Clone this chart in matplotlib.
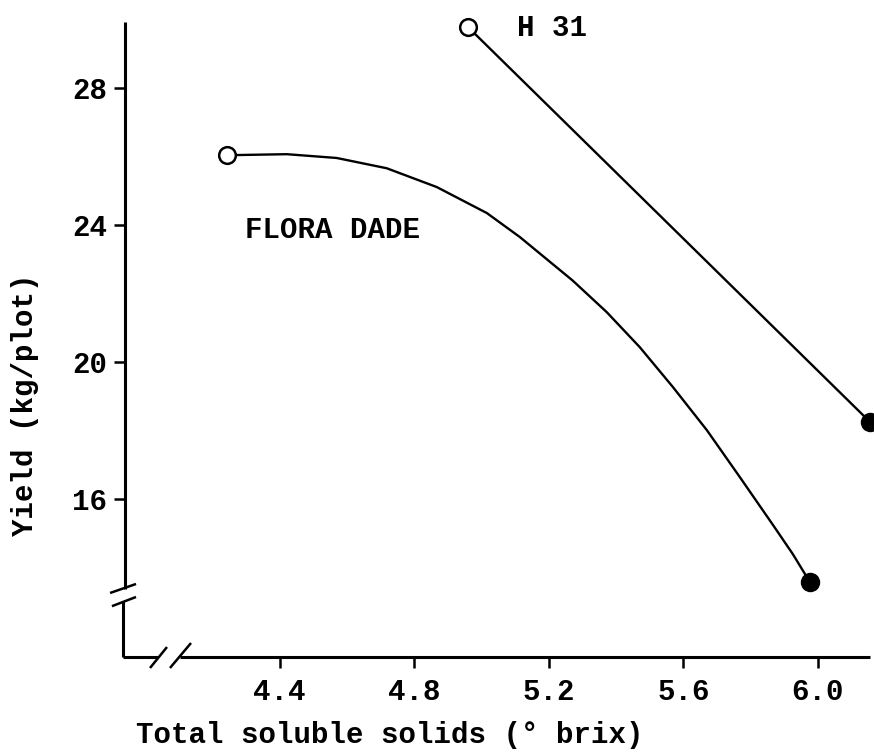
import numpy as np
import matplotlib
matplotlib.use("Agg")
import matplotlib.pyplot as plt

# values
flora_x = [4.242, 4.421, 4.569, 4.718, 4.867, 5.016, 5.114, 5.203, 5.271, 5.372,
           5.470, 5.569, 5.670, 5.768, 5.866, 5.925, 5.976]
flora_y = [26.04, 26.07, 25.96, 25.66, 25.11, 24.35, 23.65, 22.93, 22.38, 21.46,
           20.44, 19.27, 18.01, 16.64, 15.25, 14.40, 13.58]
h31_x = [4.96, 6.155]
h31_y = [29.78, 18.25]

xticks = [4.4, 4.8, 5.2, 5.6, 6.0]
xticklabels = ["4.4", "4.8", "5.2", "5.6", "6.0"]
yticks = [16, 20, 24, 28]
yticklabels = ["16", "20", "24", "28"]

plt.rcParams['font.family'] = ['Liberation Mono', 'DejaVu Sans Mono']
plt.rcParams['font.weight'] = 'bold'
plt.rcParams['axes.labelweight'] = 'bold'
fs = 21

fig = plt.figure(figsize=(8.74, 7.53), dpi=100)
ax = fig.add_axes([0.143, 0.1275, 0.8525, 0.8433])
ax.set_xlim(3.94, 6.155)
ax.set_ylim(11.39, 29.93)

for s in ax.spines.values():
    s.set_visible(False)

# curves
ax.plot(flora_x, flora_y, color='black', lw=1.7, zorder=2, solid_joinstyle='round')
ax.plot(h31_x, h31_y, color='black', lw=1.7, zorder=2)
for xs, ys in [(flora_x, flora_y), (h31_x, h31_y)]:
    ax.plot(xs[0], ys[0], 'o', ms=12, mfc='white', mec='black', mew=1.8, zorder=3, clip_on=False)
    ax.plot(xs[-1], ys[-1], 'o', ms=13, color='black', zorder=3, clip_on=False)

ax.text(4.296, 23.85, "FLORA DADE", fontsize=fs, ha='left', va='center')
ax.text(5.105, 29.75, "H 31", fontsize=fs, ha='left', va='center')

# broken axes drawn by hand
kw = dict(transform=ax.transAxes, color='black', clip_on=False, solid_capstyle='butt')
ax.plot([0, 0], [1, 0.107], lw=2.2, **kw)
ax.plot([-0.003, -0.003], [0.088, 0], lw=2.2, **kw)
ax.plot([-0.003, 0.0443], [0, 0], lw=2.2, **kw)
ax.plot([0.0738, 1], [0, 0], lw=2.2, **kw)
ax.plot([-0.020, 0.0148], [0.1008, 0.115], lw=1.8, **kw)
ax.plot([-0.0175, 0.0148], [0.080, 0.0945], lw=1.8, **kw)
ax.plot([0.0336, 0.0564], [-0.0173, 0.0157], lw=1.8, **kw)
ax.plot([0.0604, 0.0886], [-0.0173, 0.022], lw=1.8, **kw)

ax.set_xticks(xticks)
ax.set_xticklabels(xticklabels)
ax.set_yticks(yticks)
ax.set_yticklabels(yticklabels)
ax.tick_params(axis='x', direction='out', length=8, width=1.8, pad=7, labelsize=fs)
ax.tick_params(axis='y', direction='out', length=8, width=1.8, pad=5, labelsize=fs)

ax.set_xlabel("Total soluble solids (° brix)", fontsize=fs, va='center')
ax.set_ylabel("Yield (kg/plot)", fontsize=fs, va='center')
ax.xaxis.set_label_coords(0.356, -0.123)
ax.yaxis.set_label_coords(-0.134, 0.397)

fig.savefig("out.png", dpi=100)
